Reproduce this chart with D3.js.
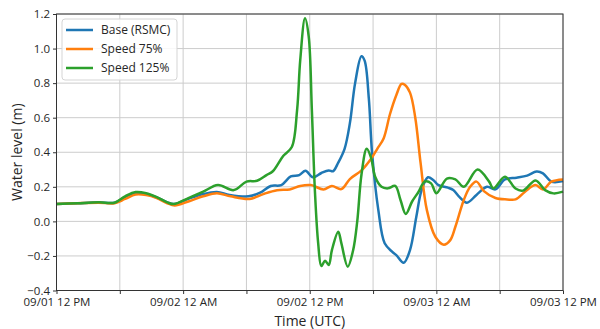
<!DOCTYPE html>
<html>
<head>
<meta charset="utf-8">
<script src="https://cdn.jsdelivr.net/npm/d3@7"></script>
<style>
  body { margin: 0; background: #fff; }
  text { font-family: "Open Sans", "Noto Sans", sans-serif; fill: #262626; }
</style>
</head>
<body>
<div class="main"></div>
<script>
// hours after 09/01 12 PM (UTC), water level in m
let baseRsmc = [[0,0.10],[2,0.105],[4,0.11],[5.5,0.108],[6.5,0.14],[7.5,0.163],[8.5,0.158],[9.5,0.138],[10.5,0.11],[11.1,0.10],
  [12.5,0.13],[13.9,0.158],[15.2,0.17],[16.4,0.153],[18.2,0.145],[19.3,0.166],[20.3,0.205],[21.3,0.21],[22.2,0.26],[23,0.268],
  [23.6,0.293],[24.3,0.255],[25.1,0.28],[25.8,0.295],[26.2,0.29],[26.7,0.34],[27.3,0.42],[27.8,0.567],[28.3,0.80],[28.9,0.955],
  [29.2,0.93],[29.6,0.71],[29.9,0.40],[30.5,0.065],[31.1,-0.127],[31.8,-0.175],[32.2,-0.195],[32.9,-0.24],[33.5,-0.166],[34.1,0.027],
  [34.6,0.181],[35.2,0.255],[35.7,0.24],[36.2,0.21],[37.1,0.195],[37.6,0.181],[38.2,0.14],[38.9,0.108],[39.8,0.153],[40.8,0.20],
  [41.6,0.185],[42.5,0.243],[43.6,0.253],[44.6,0.265],[45.5,0.288],[46.1,0.278],[46.9,0.23],[48,0.233]];

let speed75 = [[0,0.10],[2,0.105],[4,0.108],[5.5,0.105],[6.5,0.13],[7.5,0.155],[8.5,0.152],[9.5,0.135],[10.5,0.105],[11.2,0.092],
  [12.5,0.115],[13.9,0.145],[15.2,0.163],[16.5,0.145],[18.3,0.13],[19.6,0.158],[20.9,0.18],[22.1,0.185],[23.1,0.205],[24.1,0.21],
  [25.3,0.185],[26.1,0.205],[27.0,0.187],[27.8,0.245],[28.9,0.295],[29.9,0.37],[30.4,0.42],[31.0,0.48],[31.6,0.62],[32.2,0.73],
  [32.7,0.795],[33.0,0.79],[33.5,0.745],[34.0,0.6],[34.5,0.34],[35.1,0.065],[35.9,-0.089],[36.7,-0.135],[37.3,-0.11],[37.8,-0.031],
  [38.6,0.124],[39.2,0.20],[39.8,0.23],[40.5,0.175],[41.6,0.135],[42.7,0.127],[43.5,0.127],[44.4,0.172],[45.4,0.21],[46.1,0.185],
  [46.9,0.23],[48,0.243]];

let speed125 = [[0,0.10],[2,0.105],[4,0.11],[5.5,0.108],[6.5,0.145],[7.5,0.17],[8.5,0.163],[9.5,0.14],[10.5,0.11],[11.1,0.10],
  [12.5,0.135],[13.9,0.172],[15.3,0.21],[16.8,0.181],[18,0.23],[19,0.235],[19.9,0.268],[20.5,0.29],[21.5,0.38],[22.3,0.43],
  [22.8,0.644],[23.1,0.934],[23.55,1.175],[23.9,1.07],[24.2,0.644],[24.5,0.162],[24.8,-0.127],[25.1,-0.258],[25.45,-0.228],[25.8,-0.252],
  [26.1,-0.166],[26.7,-0.06],[27.0,-0.127],[27.6,-0.262],[28.1,-0.17],[28.5,0.0],[28.9,0.27],[29.4,0.42],[29.8,0.37],[30.2,0.258],
  [30.8,0.20],[31.4,0.191],[32.1,0.205],[32.6,0.124],[33.1,0.043],[33.7,0.115],[34.3,0.17],[34.9,0.23],[35.5,0.22],[36.0,0.163],
  [37.0,0.248],[37.8,0.243],[38.6,0.20],[39.9,0.30],[41.0,0.23],[41.4,0.191],[42.5,0.258],[43.5,0.19],[44.2,0.178],[45.4,0.237],
  [46.3,0.181],[47.1,0.162],[48,0.172]];

let seriesNames = ['Base (RSMC)', 'Speed 75%', 'Speed 125%'];
let seriesColors = ['#1f77b4', '#ff7f0e', '#2ca02c'];
let xTickLabels = ['09/01 12 PM', '09/02 12 AM', '09/02 12 PM', '09/03 12 AM', '09/03 12 PM'];
let yTicks = [-0.4, -0.2, 0.0, 0.2, 0.4, 0.6, 0.8, 1.0, 1.2];

let chart = { width: 600, height: 329, left: 56.5, right: 563, top: 14, bottom: 290.5 };

let svg = d3.select('.main').append('svg')
  .attr('width', chart.width)
  .attr('height', chart.height);

let x = d3.scaleLinear().domain([0, 48]).range([chart.left, chart.right]);
let y = d3.scaleLinear().domain([-0.4, 1.2]).range([chart.bottom, chart.top]);

// grid
let grid = svg.append('g');
grid.selectAll('.gx').data(d3.range(0, 49, 6)).enter().append('line')
  .attr('x1', d => x(d)).attr('x2', d => x(d))
  .attr('y1', chart.top).attr('y2', chart.bottom)
  .attr('stroke', '#cccccc').attr('stroke-width', 1);
grid.selectAll('.gy').data(yTicks).enter().append('line')
  .attr('x1', chart.left).attr('x2', chart.right)
  .attr('y1', d => y(d)).attr('y2', d => y(d))
  .attr('stroke', '#cccccc').attr('stroke-width', 1);

// lines
let line = d3.line()
  .x(d => x(d[0]))
  .y(d => y(d[1]))
  .curve(d3.curveCatmullRom.alpha(0.5));

[baseRsmc, speed75, speed125].forEach((data, i) => {
  svg.append('path')
    .datum(data)
    .attr('d', line)
    .attr('fill', 'none')
    .attr('stroke', seriesColors[i])
    .attr('stroke-width', 2.5)
    .attr('stroke-linejoin', 'round');
});

// spines
svg.append('rect')
  .attr('x', chart.left).attr('y', chart.top)
  .attr('width', chart.right - chart.left).attr('height', chart.bottom - chart.top)
  .attr('fill', 'none').attr('stroke', '#333333').attr('stroke-width', 1);

// axes
let xAxis = d3.axisBottom(x)
  .tickValues(d3.range(0, 49, 6))
  .tickSize(3.5)
  .tickFormat(d => d % 12 === 0 ? xTickLabels[d / 12] : '');
let gx = svg.append('g').attr('transform', `translate(0,${chart.bottom})`).call(xAxis);
gx.select('.domain').remove();
gx.selectAll('line').attr('stroke', '#333333');
gx.selectAll('text').attr('font-size', 11.5).attr('dy', '0.78em').attr('fill', '#262626');

let yAxis = d3.axisLeft(y)
  .tickValues(yTicks)
  .tickSize(3.5)
  .tickFormat(d3.format('.1f'));
let gy = svg.append('g').attr('transform', `translate(${chart.left},0)`).call(yAxis);
gy.select('.domain').remove();
gy.selectAll('line').attr('stroke', '#333333');
gy.selectAll('text').attr('font-size', 11.5).attr('fill', '#262626');

svg.append('text')
  .attr('x', (chart.left + chart.right) / 2).attr('y', 325.5)
  .attr('text-anchor', 'middle').attr('font-size', 14)
  .text('Time (UTC)');

svg.append('text')
  .attr('transform', `translate(22,${(chart.top + chart.bottom) / 2}) rotate(-90)`)
  .attr('text-anchor', 'middle').attr('font-size', 14)
  .text('Water level (m)');

// legend
let legend = svg.append('g');
legend.append('rect')
  .attr('x', 62).attr('y', 19).attr('width', 115).attr('height', 61)
  .attr('rx', 3).attr('fill', 'rgba(255,255,255,0.85)')
  .attr('stroke', '#d5d5d5').attr('stroke-width', 1);
seriesNames.forEach((name, i) => {
  let ly = 30 + i * 19;
  legend.append('line')
    .attr('x1', 66).attr('x2', 93).attr('y1', ly).attr('y2', ly)
    .attr('stroke', seriesColors[i]).attr('stroke-width', 2.5);
  legend.append('text')
    .attr('x', 101).attr('y', ly).attr('dy', '0.35em')
    .attr('font-size', 12)
    .text(name);
});
</script>
</body>
</html>
